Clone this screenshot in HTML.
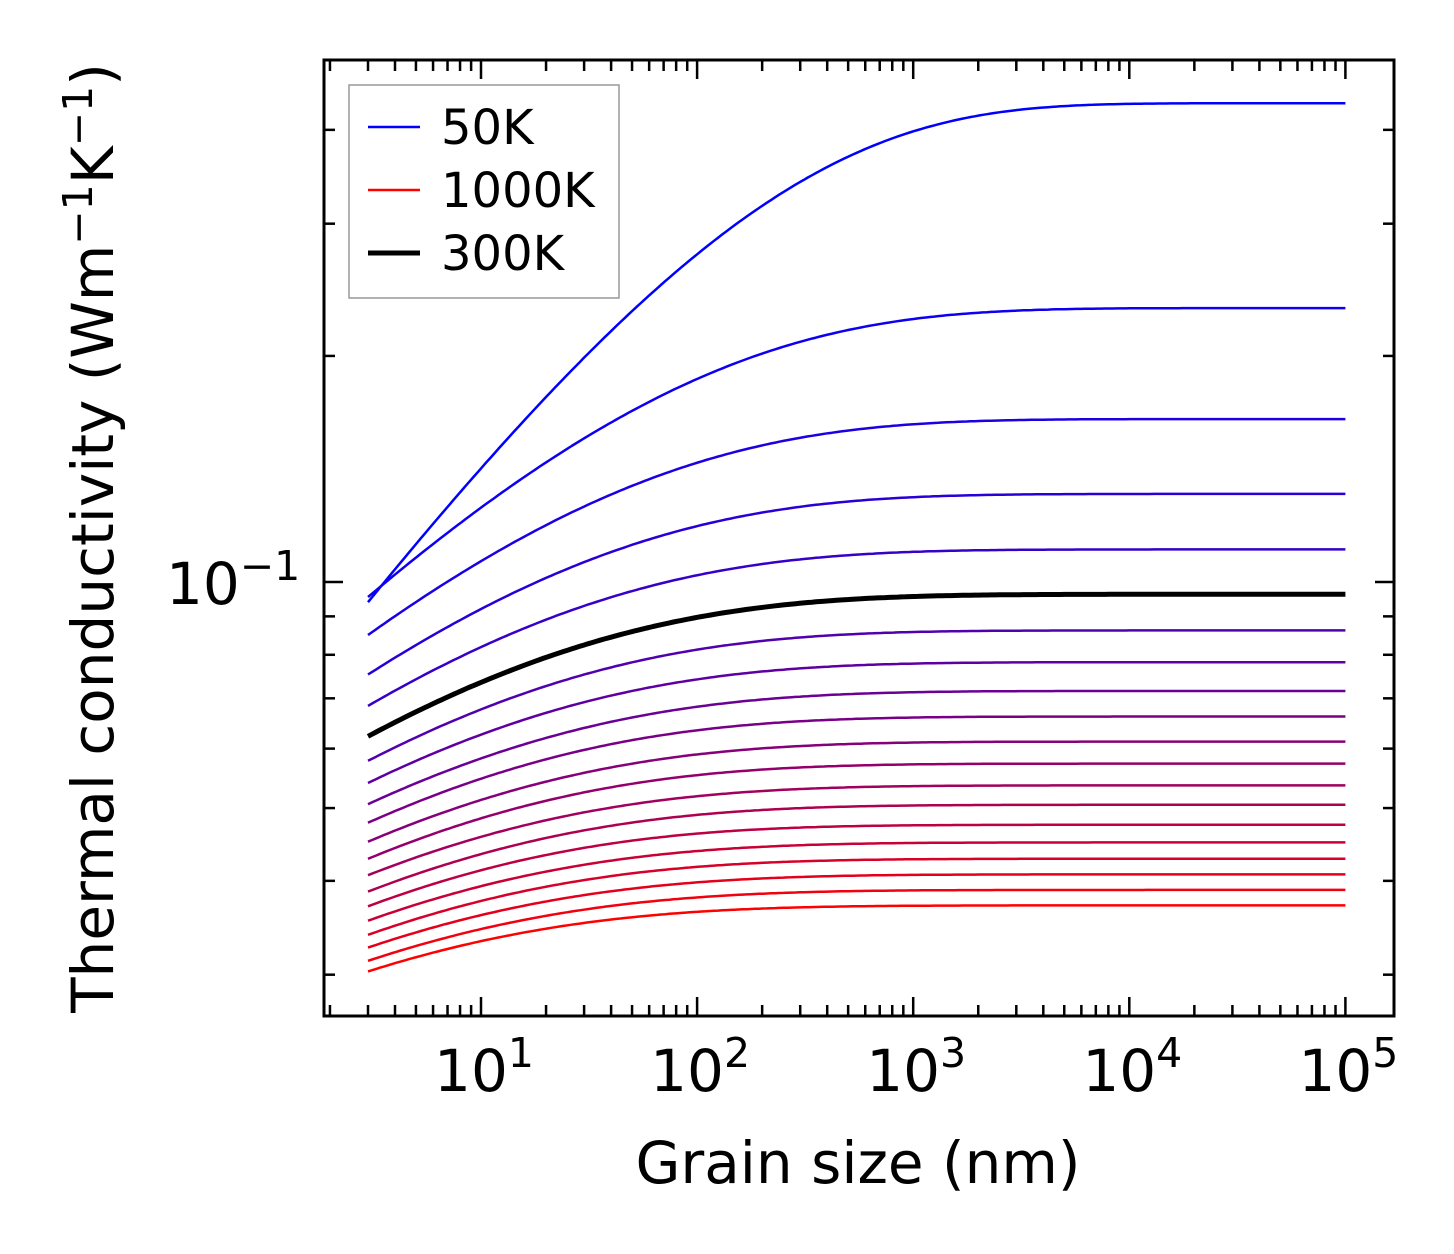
<!DOCTYPE html>
<html><head><meta charset="utf-8"><style>
html,body{margin:0;padding:0;background:#fff;}
svg{display:block;font-family:"DejaVu Sans","Liberation Sans",sans-serif;}
</style></head><body>
<svg id="chart" width="1454" height="1254" viewBox="0 0 1454 1254" xmlns="http://www.w3.org/2000/svg">
<g id="plot"></g>
<g id="axes"></g>
<text x="858" y="1183" font-size="58" text-anchor="middle">Grain size (nm)</text>
<text transform="translate(113,538) rotate(-90)" font-size="58" text-anchor="middle">Thermal conductivity (Wm<tspan font-size="41" dy="-21">−1</tspan><tspan dy="21">K</tspan><tspan font-size="41" dy="-21">−1</tspan><tspan dy="21">)</tspan></text>
<g>
<rect x="349" y="85" width="270" height="213" fill="#fff" stroke="#999" stroke-width="1.5"/>
<line x1="368" y1="127" x2="420" y2="127" stroke="#0000ff" stroke-width="2.5"/>
<text x="441" y="144" font-size="48">50K</text>
<line x1="368" y1="190" x2="420" y2="190" stroke="#ff0000" stroke-width="2.5"/>
<text x="441" y="207" font-size="48">1000K</text>
<line x1="368" y1="253" x2="420" y2="253" stroke="#000" stroke-width="5"/>
<text x="441" y="270" font-size="48">300K</text>
</g>
</svg>
<script>
const temps = [50,100,150,200,250,300,350,400,450,500,550,600,650,700,750,800,850,900,950,1000];
const kInf = [0.4340,0.2316,0.1648,0.1310,0.1105,0.0963,0.0862,0.0782,0.0716,0.0662,0.0613,0.0573,0.0536,0.0505,0.0475,0.0450,0.0428,0.0408,0.0389,0.0371];
const kAt3 = [0.0940,0.0955,0.0850,0.0753,0.0684,0.0623,0.0578,0.0540,0.0506,0.0478,0.0451,0.0428,0.0407,0.0387,0.0370,0.0354,0.0339,0.0326,0.0313,0.0303];
const shapeExp = [0.40,0.32,0.30,0.29,0.28,0.27,0.27,0.265,0.26,0.26,0.255,0.255,0.25,0.25,0.25,0.245,0.245,0.24,0.24,0.24];
const xTickLabels = ["1","2","3","4","5"];
const NS="http://www.w3.org/2000/svg";
const L=324,R=1394,T=60,B=1016;
const X0=481, DX=216.1;
const Y0=582, DY=751;
function xs(v){return X0+(Math.log10(v)-1)*DX;}
function ys(v){return Y0-(Math.log10(v)+1)*DY;}
function mk(tag,attrs,parent){const e=document.createElementNS(NS,tag);for(const k in attrs)e.setAttribute(k,attrs[k]);parent.appendChild(e);return e;}
const plot=document.getElementById('plot'), axes=document.getElementById('axes');
function curve(i){
  const q=shapeExp[i];
  const a=-Math.log(1-kAt3[i]/kInf[i]);
  const c=3/Math.pow(a,1/q);
  const pts=[];
  for(let j=0;j<=240;j++){const lx=Math.log10(3)+j*(5-Math.log10(3))/240;const Ls=Math.pow(10,lx);
    const k=kInf[i]*(1-Math.exp(-Math.pow(Ls/c,q)));pts.push(xs(Ls).toFixed(1)+','+ys(k).toFixed(1));}
  return pts.join(' ');
}
for(let i=0;i<temps.length;i++){
  const f=i/(temps.length-1);
  const black=temps[i]===300;
  const col=black?'#000':`rgb(${Math.round(255*f)},0,${Math.round(255*(1-f))})`;
  const pl=mk('polyline',{points:curve(i),fill:'none',stroke:col,'stroke-width':black?5:2.5,'stroke-linejoin':'round'},plot);
  
  
}
const fr=mk('rect',{x:L,y:T,width:R-L,height:B-T,fill:'none',stroke:'#000','stroke-width':3},axes);


for(let d=0;d<=5;d++){for(let m=1;m<=9;m++){const v=m*Math.pow(10,d);const x=xs(v);if(x<L+1||x>R-1)continue;
  const len=m===1?19:11;
  const t1=mk('line',{x1:x,y1:B,x2:x,y2:B-len,stroke:'#000','stroke-width':2.5},axes);
  
  
  const t2=mk('line',{x1:x,y1:T,x2:x,y2:T+len,stroke:'#000','stroke-width':2.5},axes);
  
  
}}
xTickLabels.forEach(p=>{const x=xs(Math.pow(10,+p));
  const t=mk('text',{x:x+3,y:1091,'font-size':58,'text-anchor':'middle'},axes);
  
  
  t.textContent='10';
  const s=mk('tspan',{'font-size':41,dy:-24},t);s.textContent=p;
});
for(let d=-2;d<=0;d++){for(let m=1;m<=9;m++){const v=m*Math.pow(10,d);const y=ys(v);if(y<T+1||y>B-1)continue;
  const len=m===1?19:11;
  const t1=mk('line',{x1:L,y1:y,x2:L+len,y2:y,stroke:'#000','stroke-width':2.5},axes);
  
  
  const t2=mk('line',{x1:R,y1:y,x2:R-len,y2:y,stroke:'#000','stroke-width':2.5},axes);
  
  
}}
const yl=mk('text',{x:166,y:ys(0.1)+22,'font-size':58},axes);


yl.textContent='10';
const ys1=mk('tspan',{'font-size':41,dy:-24},yl);ys1.textContent='−1';
</script>
</body></html>
